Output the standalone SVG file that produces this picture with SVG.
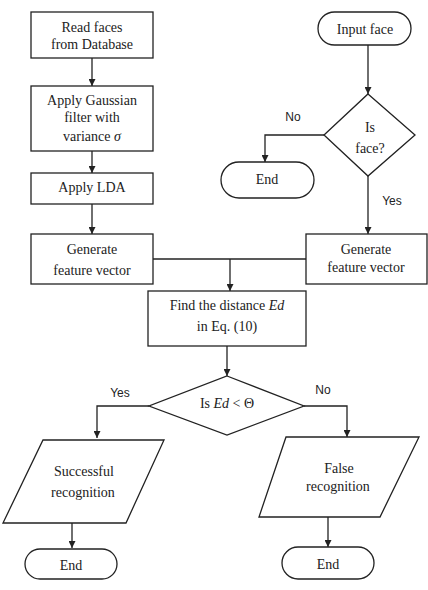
<svg xmlns="http://www.w3.org/2000/svg" width="428" height="590" viewBox="0 0 428 590">
<style>
.n{fill:#fff;stroke:#222;stroke-width:1.3}
.t{font-family:"Liberation Serif",serif;font-size:14px;fill:#222;text-anchor:middle}
.l{font-family:"Liberation Sans",sans-serif;font-size:12px;fill:#222;text-anchor:middle}
.c{fill:none;stroke:#222;stroke-width:1.3}
</style>
<defs>
<marker id="a" viewBox="0 0 10 10" refX="10" refY="5" markerWidth="7" markerHeight="7" markerUnits="userSpaceOnUse" orient="auto"><path d="M0,0L10,5L0,10z" fill="#222"/></marker>
</defs>
<rect width="428" height="590" fill="#fff"/>
<g id="connectors">
<path class="c" d="M92,58V86" marker-end="url(#a)"/>
<path class="c" d="M92,151V173" marker-end="url(#a)"/>
<path class="c" d="M92,204V234" marker-end="url(#a)"/>
<path class="c" d="M368,45V94" marker-end="url(#a)"/>
<path class="c" d="M324,135H265V162" marker-end="url(#a)"/>
<path class="c" d="M368,176V234" marker-end="url(#a)"/>
<path class="c" d="M153,259H306"/>
<path class="c" d="M230,259V291" marker-end="url(#a)"/>
<path class="c" d="M227,346V376" marker-end="url(#a)"/>
<path class="c" d="M149,406H97V438" marker-end="url(#a)"/>
<path class="c" d="M304,406H347V437" marker-end="url(#a)"/>
<path class="c" d="M72,523V548" marker-end="url(#a)"/>
<path class="c" d="M328,517V547" marker-end="url(#a)"/>
<text class="l" x="293" y="121">No</text>
<text class="l" x="392" y="205">Yes</text>
<text class="l" x="120" y="397">Yes</text>
<text class="l" x="323" y="394">No</text>
</g>
<g id="read"><rect class="n" x="31" y="12" width="122" height="46"/><text class="t" x="92" y="32">Read faces</text><text class="t" x="92" y="49">from Database</text></g>
<g id="gauss"><rect class="n" x="31" y="86" width="122" height="65"/><text class="t" x="92" y="105">Apply Gaussian</text><text class="t" x="92" y="122">filter with</text><text class="t" x="92" y="141">variance <tspan font-style="italic">σ</tspan></text></g>
<g id="lda"><rect class="n" x="31" y="173" width="122" height="31"/><text class="t" x="92" y="192">Apply LDA</text></g>
<g id="gen1"><rect class="n" x="31" y="234" width="122" height="50"/><text class="t" x="92" y="254">Generate</text><text class="t" x="92" y="275">feature vector</text></g>
<g id="input"><rect class="n" x="318" y="12" width="93" height="33" rx="16.5"/><text class="t" x="365" y="34">Input face</text></g>
<g id="isface"><path class="n" d="M368,94L415,135L368,176L324,135z"/><text class="t" x="370" y="132">Is</text><text class="t" x="370" y="153">face?</text></g>
<g id="end1"><rect class="n" x="221" y="162" width="93" height="36" rx="18"/><text class="t" x="267" y="184">End</text></g>
<g id="gen2"><rect class="n" x="306" y="234" width="121" height="50"/><text class="t" x="366" y="254">Generate</text><text class="t" x="366" y="272">feature vector</text></g>
<g id="find"><rect class="n" x="148" y="291" width="158" height="55"/><text class="t" x="227" y="310">Find the distance <tspan font-style="italic">Ed</tspan></text><text class="t" x="227" y="331">in Eq. (10)</text></g>
<g id="cmp"><path class="n" d="M227,376L304,406L227,435L149,406z"/><text class="t" x="227" y="408">Is <tspan font-style="italic">Ed</tspan> &lt; Θ</text></g>
<g id="succ"><path class="n" d="M43,440H164L126,523H3z"/><text class="t" x="84" y="476">Successful</text><text class="t" x="83" y="497">recognition</text></g>
<g id="false"><path class="n" d="M286,437H419L380,517H259z"/><text class="t" x="339" y="473">False</text><text class="t" x="338" y="491">recognition</text></g>
<g id="end2"><rect class="n" x="25" y="549" width="92" height="30" rx="15"/><text class="t" x="71" y="570">End</text></g>
<g id="end3"><rect class="n" x="282" y="547" width="92" height="32" rx="16"/><text class="t" x="328" y="569">End</text></g>
</svg>
